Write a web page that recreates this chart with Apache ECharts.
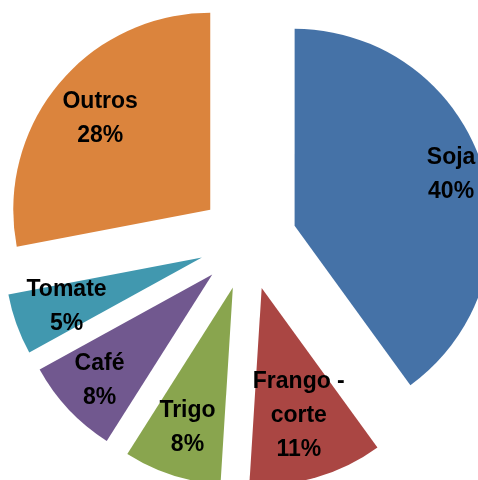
<!DOCTYPE html>
<html>
<head>
<meta charset="utf-8">
<script src="https://cdn.jsdelivr.net/npm/echarts@6/dist/echarts.min.js"></script>
<style>
html,body{margin:0;padding:0;background:#fff;}
#chart{width:478px;height:480px;}
</style>
</head>
<body>
<div id="chart"></div>
<script>
// Data
const categories = ['Soja', 'Frango - corte', 'Trigo', 'Café', 'Tomate', 'Outros'];
const values = [40, 11, 8, 8, 5, 28];

// Styles
const colors = ['#4572A7', '#AA4643', '#89A54E', '#71588F', '#4198AF', '#DB843D'];
const labelRatio = [0.82, 0.66, 0.73, 0.77, 0.715, 0.71];
const R = 197;

const total = values.reduce((a, b) => a + b, 0);
const midAngles = [];
let acc = 0;
values.forEach(v => { midAngles.push((acc + v / 2) / total * 2 * Math.PI); acc += v; });

const chart = echarts.init(document.getElementById('chart'), null, {renderer: 'canvas'});
chart.setOption({
  animation: false,
  series: [{
    type: 'pie',
    center: [248, 241],
    radius: R,
    startAngle: 90,
    clockwise: true,
    selectedMode: 'multiple',
    selectedOffset: 49,
    emphasis: {disabled: true},
    avoidLabelOverlap: false,
    label: {
      show: true,
      position: 'inside',
      rotate: 0,
      fontFamily: '"Liberation Sans", Arial, sans-serif',
      fontWeight: 'bold',
      fontSize: 23,
      lineHeight: 34,
      color: '#000',
      align: 'center',
      formatter: p => p.name.replace(' - ', ' -\n') + '\n' + Math.round(p.percent) + '%'
    },
    labelLine: {show: false},
    labelLayout: function (params) {
      const i = params.dataIndex;
      const a = midAngles[i];
      const extra = (labelRatio[i] - 0.5) * R;
      return {dx: extra * Math.sin(a), dy: -extra * Math.cos(a)};
    },
    itemStyle: {borderWidth: 0},
    data: categories.map((c, i) => ({
      name: c,
      value: values[i],
      selected: true,
      itemStyle: {color: colors[i]}
    }))
  }]
});
</script>
</body>
</html>
